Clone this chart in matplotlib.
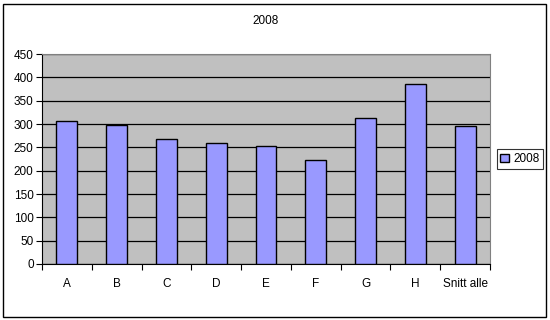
import numpy as np
import matplotlib.pyplot as plt

plt.rcParams['font.family'] = ['Liberation Sans', 'DejaVu Sans']

categories = ['A', 'B', 'C', 'D', 'E', 'F', 'G', 'H', 'Snitt alle']
values_2008 = [307, 298, 267, 260, 252, 224, 314, 385, 295]

fig = plt.figure(figsize=(5.5, 3.2), dpi=100)
fig.patch.set_facecolor('white')
# outer chart border (in pixels: 2..546 x 3..316)
fig.add_artist(plt.Rectangle((2.5 / 550, 3.5 / 320), 543.5 / 550, 313 / 320,
                             transform=fig.transFigure, fill=False,
                             edgecolor='black', linewidth=1))

ax = fig.add_axes([0.0764, 0.175, 0.8146, 0.656])
ax.set_facecolor('#c0c0c0')

x = np.arange(len(categories))
ax.bar(x, values_2008, width=0.42, color='#9999ff', edgecolor='black',
       linewidth=1, label='2008', zorder=3)

ax.set_xlim(-0.5, len(categories) - 0.5)
ax.set_ylim(0, 450)
ax.set_yticks(range(0, 451, 50))
ax.yaxis.grid(True, color='black', linewidth=0.9, zorder=1)
ax.set_axisbelow(True)

ax.set_xticks(x)
ax.set_xticklabels(categories)
ax.set_xticks(np.arange(-0.5, len(categories)), minor=True)
ax.tick_params(axis='x', which='major', length=0, labelsize=8.5, pad=10)
ax.tick_params(axis='x', which='minor', length=4, direction='out', width=0.8)
ax.tick_params(axis='y', length=4, direction='out', width=0.8, labelsize=8.5, pad=2)

for side in ['top', 'right']:
    ax.spines[side].set_color('#808080')
    ax.spines[side].set_linewidth(0.8)
ax.spines['left'].set_linewidth(0.8)
ax.spines['bottom'].set_linewidth(0.8)

ax.set_title('2008', fontsize=8.5, pad=22)

leg = ax.legend(loc='center left', bbox_to_anchor=(1.015, 0.5), fontsize=8.5,
                frameon=True, fancybox=False, edgecolor='black',
                handlelength=0.7, handleheight=0.7, handletextpad=0.4,
                borderpad=0.3, borderaxespad=0)
leg.get_frame().set_linewidth(0.8)

fig.savefig('out.png', dpi=100)
